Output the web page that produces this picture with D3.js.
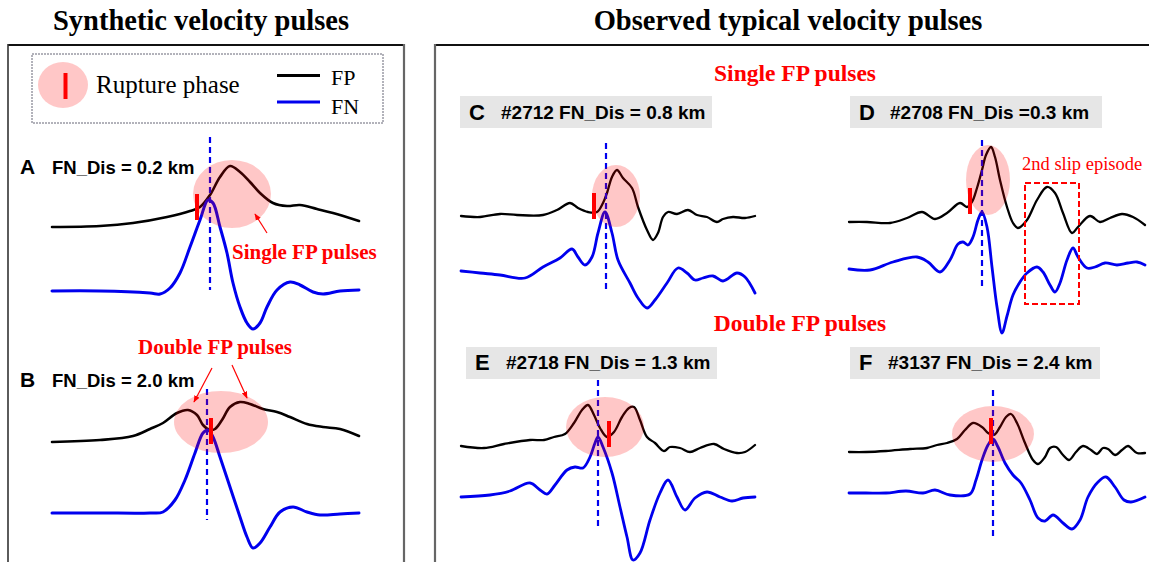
<!DOCTYPE html>
<html>
<head>
<meta charset="utf-8">
<script src="https://cdn.jsdelivr.net/npm/d3@7"></script>
<style>
  body { margin: 0; background: #fff; }
  svg { display: block; }
</style>
</head>
<body>
<div id="chart"></div>
<script>
// velocity traces: [time sample, velocity] relative to the start of each trace
const fpA = [[0,0],[48,1],[81,4],[115,10],[138,16],[148,20],[158,32],[168,50],[178,61],[188,55],[198,45],[208,34],[221,24],[235,21],[248,22],[265,18],[281,14],[307,6]];
const fnA = [[0,0],[48,0],[98,-2],[108,-3],[118,3],[128,18],[138,44],[148,71],[156,91],[161,88],[168,64],[175,38],[181,8],[188,-16],[195,-32],[201,-38],[208,-32],[215,-16],[225,1],[238,9],[248,6],[261,-1],[271,-3],[288,0],[307,1]];
const fpB = [[0,0],[48,2],[81,6],[98,13],[111,19],[125,29],[136,32],[145,27],[151,17],[158,12],[163,13],[170,22],[178,35],[188,40],[198,38],[211,33],[225,30],[238,25],[255,18],[271,15],[288,13],[307,6]];
const fnB = [[0,0],[48,0],[98,0],[111,1],[123,13],[133,33],[143,60],[151,80],[156,83],[161,76],[168,56],[178,26],[188,-4],[195,-24],[201,-35],[208,-30],[218,-14],[228,1],[241,6],[255,1],[268,-2],[288,-1],[307,0]];
const fpC = [[0,0],[19,-1],[39,2],[56,1],[82,1],[96,6],[109,13],[117,8],[127,4],[136,4],[142,13],[146,23],[151,39],[156,46],[162,38],[171,28],[177,9],[186,-14],[192,-24],[197,-17],[202,-1],[207,4],[216,2],[227,6],[236,1],[246,-1],[256,-6],[262,-3],[272,-1],[284,-2],[294,0]];
const fnC = [[0,0],[19,-2],[39,-4],[64,-7],[82,4],[99,13],[111,22],[117,14],[124,6],[131,14],[137,38],[144,59],[151,38],[157,11],[169,-12],[177,-27],[186,-37],[194,-29],[206,-12],[217,3],[226,-2],[234,-9],[242,-7],[252,-5],[262,-10],[276,-2],[284,-6],[294,-22]];
const fpD = [[0,0],[18,0],[41,-1],[58,4],[73,10],[86,3],[98,9],[111,19],[118,15],[123,20],[128,34],[133,52],[137,67],[142,75],[146,65],[151,42],[158,15],[164,-1],[169,-6],[178,2],[188,22],[198,35],[206,29],[214,9],[223,-11],[229,-5],[241,6],[251,0],[261,4],[273,8],[284,5],[296,-3]];
const fnD = [[0,0],[21,-1],[44,7],[68,12],[79,7],[91,-3],[101,9],[109,25],[114,27],[119,24],[124,32],[129,49],[133,57],[138,42],[143,2],[148,-38],[153,-64],[158,-47],[164,-26],[171,-13],[178,-4],[188,2],[194,-3],[201,-16],[206,-23],[211,-14],[218,9],[224,21],[229,12],[238,1],[246,2],[256,6],[268,4],[279,6],[288,7],[296,4]];
const fpE = [[0,0],[23,-2],[43,2],[69,6],[83,6],[93,9],[104,12],[113,23],[121,36],[127,41],[133,31],[139,18],[146,9],[153,14],[161,29],[168,38],[173,39],[179,26],[186,9],[194,3],[203,-5],[209,-1],[219,-2],[229,-6],[239,-2],[253,2],[263,-3],[276,-7],[284,-6],[294,1]];
const fnE = [[0,0],[29,2],[49,6],[69,14],[79,7],[86,3],[94,12],[106,27],[114,30],[122,29],[129,40],[134,54],[137,60],[142,50],[151,24],[159,-10],[166,-40],[172,-63],[179,-56],[189,-23],[199,4],[207,17],[216,0],[224,-13],[234,-1],[246,5],[259,0],[271,-4],[282,-1],[294,0]];
const fpF = [[0,0],[17,0],[37,1],[61,3],[78,4],[88,7],[98,9],[108,13],[116,22],[124,29],[133,25],[139,19],[145,17],[151,25],[157,35],[162,38],[168,29],[176,9],[184,-8],[189,-12],[196,-5],[201,4],[207,5],[214,-3],[220,-8],[227,0],[234,6],[242,2],[248,-2],[254,4],[259,3],[266,-3],[273,2],[279,6],[288,-1],[296,-1]];
const fnF = [[0,0],[17,0],[37,0],[57,2],[74,0],[86,3],[101,-2],[121,-1],[127,13],[133,33],[139,48],[144,54],[149,46],[156,30],[164,18],[172,10],[181,-7],[189,-25],[196,-28],[204,-22],[214,-30],[223,-36],[231,-27],[239,-4],[249,11],[257,16],[266,6],[275,-7],[282,-9],[296,-4]];

const panelIds = ["A", "B", "C", "D", "E", "F"];
const distLabels = ["FN_Dis = 0.2 km", "FN_Dis = 2.0 km", "#2712 FN_Dis = 0.8 km", "#2708 FN_Dis =0.3 km", "#2718 FN_Dis = 1.3 km", "#3137 FN_Dis = 2.4 km"];
const fpTraces = [fpA, fpB, fpC, fpD, fpE, fpF];
const fnTraces = [fnA, fnB, fnC, fnD, fnE, fnF];
// rupture phase arrival (time, FP velocity level)
const ruptureT = [145, 159, 133, 121, 148, 142];
const ruptureV = [20, 11, 10, 21, 12, 21];
// FN pulse peak time and extent of the dashed marker (FP velocity units)
const pulseT = [158, 155, 145, 133, 137, 144];
const pulseSpan = [[90, -63], [53, -78], [73, -77], [82, -67], [66, -83], [62, -87]];
// centre of the highlighted rupture phase
const phaseT = [180, 169, 155, 139, 144, 144];
const phaseV = [33, 20, 20, 42, 19, 18];
// second slip episode window in D
const episodeT = [176, 230];
const episodeV = [39, -82];

// layout of the six panels (pixels)
const layout = [
  {x0: 52,  fp: 227, fn: 291, rx: 39, ry: 34, synth: true,  lx: 20,  ly: 174, tx: 52},
  {x0: 52,  fp: 442, fn: 513, rx: 47, ry: 31, synth: true,  lx: 20,  ly: 387, tx: 52},
  {x0: 461, fp: 216, fn: 271, rx: 24, ry: 31, box: [460, 96, 252, 32],  lx: 469, ly: 119.5, tx: 501},
  {x0: 849, fp: 222, fn: 269, rx: 22, ry: 35, box: [850, 96, 252, 32],  lx: 859, ly: 119.5, tx: 890},
  {x0: 461, fp: 446, fn: 497, rx: 39, ry: 30, box: [466, 347, 251, 32], lx: 475, ly: 370, tx: 506},
  {x0: 849, fp: 452, fn: 493, rx: 41, ry: 28, box: [850, 347, 250, 32], lx: 859, ly: 370, tx: 888}
];

const W = 1149, H = 562;
const serif = "'Liberation Serif', 'Times New Roman', serif";
const sans = "'Liberation Sans', Arial, sans-serif";
const BLUE = "#0000ee";

const svg = d3.select("#chart").append("svg")
    .attr("width", W)
    .attr("height", H);

svg.append("rect").attr("width", W).attr("height", H).attr("fill", "#fff");

// arrow marker
svg.append("defs").append("marker")
    .attr("id", "arr")
    .attr("viewBox", "0 0 10 10")
    .attr("refX", 9).attr("refY", 5)
    .attr("markerWidth", 7).attr("markerHeight", 7)
    .attr("markerUnits", "userSpaceOnUse")
    .attr("orient", "auto")
  .append("path")
    .attr("d", "M0,1 L10,5 L0,9 Z")
    .attr("fill", "#ff0000");

// frames
svg.append("line").attr("x1", 8).attr("x2", 405).attr("y1", 45).attr("y2", 45).attr("stroke", "#111").attr("stroke-width", 2);
svg.append("line").attr("x1", 8).attr("x2", 8).attr("y1", 44).attr("y2", H).attr("stroke", "#333").attr("stroke-width", 1.6);
svg.append("line").attr("x1", 404).attr("x2", 404).attr("y1", 44).attr("y2", H).attr("stroke", "#666").attr("stroke-width", 2.2);
svg.append("line").attr("x1", 434).attr("x2", W).attr("y1", 45).attr("y2", 45).attr("stroke", "#111").attr("stroke-width", 2);
svg.append("line").attr("x1", 435).attr("x2", 435).attr("y1", 44).attr("y2", H).attr("stroke", "#666").attr("stroke-width", 2.2);

// titles
svg.append("text").attr("x", 201).attr("y", 30).attr("text-anchor", "middle")
    .style("font-family", serif).style("font-weight", "bold").style("font-size", "28.5px")
    .text("Synthetic velocity pulses");
svg.append("text").attr("x", 788).attr("y", 30).attr("text-anchor", "middle")
    .style("font-family", serif).style("font-weight", "bold").style("font-size", "28.5px")
    .text("Observed typical velocity pulses");

// legend
const lg = svg.append("g");
lg.append("rect").attr("x", 32).attr("y", 54).attr("width", 351).attr("height", 69)
    .attr("fill", "none").attr("stroke", "#667").attr("stroke-width", 1).attr("stroke-dasharray", "2,1");
lg.append("ellipse").attr("cx", 63).attr("cy", 85).attr("rx", 25).attr("ry", 23)
    .attr("fill", "#ff0000").attr("fill-opacity", 0.22);
lg.append("line").attr("x1", 65.5).attr("x2", 65.5).attr("y1", 73).attr("y2", 99)
    .attr("stroke", "#ff0000").attr("stroke-width", 4);
lg.append("text").attr("x", 96).attr("y", 93)
    .style("font-family", serif).style("font-size", "25px").text("Rupture phase");
lg.append("line").attr("x1", 277).attr("x2", 320).attr("y1", 75.5).attr("y2", 75.5)
    .attr("stroke", "#000").attr("stroke-width", 3);
lg.append("line").attr("x1", 277).attr("x2", 320).attr("y1", 102).attr("y2", 102)
    .attr("stroke", BLUE).attr("stroke-width", 3);
lg.append("text").attr("x", 331).attr("y", 85)
    .style("font-family", serif).style("font-size", "22px").text("FP");
lg.append("text").attr("x", 331).attr("y", 114)
    .style("font-family", serif).style("font-size", "22px").text("FN");

// panels
panelIds.forEach(function(id, i) {
  const L = layout[i];
  const g = svg.append("g");

  const x = d3.scaleLinear().domain([0, 100]).range([L.x0, L.x0 + 100]);
  const yFP = d3.scaleLinear().domain([0, 100]).range([L.fp, L.fp - 100]);
  const yFN = d3.scaleLinear().domain([0, 100]).range([L.fn, L.fn - 100]);

  const lineFP = d3.line().x(d => x(d[0])).y(d => yFP(d[1])).curve(d3.curveCatmullRom.alpha(0.5));
  const lineFN = d3.line().x(d => x(d[0])).y(d => yFN(d[1])).curve(d3.curveCatmullRom.alpha(0.5));

  // label
  if (L.box) {
    g.append("rect").attr("x", L.box[0]).attr("y", L.box[1]).attr("width", L.box[2]).attr("height", L.box[3])
        .attr("fill", "#e6e6e6");
  }
  g.append("text").attr("x", L.lx).attr("y", L.ly)
      .style("font-family", sans).style("font-weight", "bold")
      .style("font-size", L.synth ? "21px" : "22px")
      .text(id);
  g.append("text").attr("x", L.tx).attr("y", L.ly - (L.synth ? 0 : 1))
      .style("font-family", sans).style("font-weight", "bold")
      .style("font-size", L.synth ? "18.5px" : "19px")
      .text(distLabels[i]);

  // traces
  const sw = L.synth ? 2.6 : 2.3;
  g.append("path").datum(fpTraces[i]).attr("d", lineFP)
      .attr("fill", "none").attr("stroke", "#000").attr("stroke-width", sw)
      .attr("stroke-linejoin", "round").attr("stroke-linecap", "round");
  g.append("path").datum(fnTraces[i]).attr("d", lineFN)
      .attr("fill", "none").attr("stroke", BLUE).attr("stroke-width", L.synth ? 3 : 2.8)
      .attr("stroke-linejoin", "round").attr("stroke-linecap", "round");

  // FN pulse peak marker
  g.append("line")
      .attr("x1", x(pulseT[i])).attr("x2", x(pulseT[i]))
      .attr("y1", yFP(pulseSpan[i][0])).attr("y2", yFP(pulseSpan[i][1]))
      .attr("stroke", BLUE).attr("stroke-width", 2.2).attr("stroke-dasharray", "6,4");

  // rupture phase highlight
  g.append("ellipse")
      .attr("cx", x(phaseT[i])).attr("cy", yFP(phaseV[i]))
      .attr("rx", L.rx).attr("ry", L.ry)
      .attr("fill", "#ff0000").attr("fill-opacity", 0.22);

  g.append("line")
      .attr("x1", x(ruptureT[i])).attr("x2", x(ruptureT[i]))
      .attr("y1", yFP(ruptureV[i] + 13)).attr("y2", yFP(ruptureV[i] - 13))
      .attr("stroke", "#ff0000").attr("stroke-width", 4);

  if (id === "D") {
    g.append("rect")
        .attr("x", x(episodeT[0])).attr("y", yFP(episodeV[0]))
        .attr("width", x(episodeT[1]) - x(episodeT[0]))
        .attr("height", yFP(episodeV[1]) - yFP(episodeV[0]))
        .attr("fill", "none").attr("stroke", "#ff0000").attr("stroke-width", 2)
        .attr("stroke-dasharray", "6,3");
    g.append("text").attr("x", 1022).attr("y", 170)
        .attr("fill", "#ff0000")
        .style("font-family", serif).style("font-size", "18.5px")
        .text("2nd slip episode");
  }
});

// annotations
function note(x, y, txt, size, anchor) {
  svg.append("text").attr("x", x).attr("y", y).attr("text-anchor", anchor || "start")
      .attr("fill", "#ff0000")
      .style("font-family", serif).style("font-weight", "bold").style("font-size", size)
      .text(txt);
}
function arrow(x1, y1, x2, y2) {
  svg.append("line").attr("x1", x1).attr("y1", y1).attr("x2", x2).attr("y2", y2)
      .attr("stroke", "#ff0000").attr("stroke-width", 1.2).attr("marker-end", "url(#arr)");
}
note(232, 259, "Single FP pulses", "21px");
arrow(267, 233, 255, 214);
note(215, 354, "Double FP pulses", "21px", "middle");
arrow(212, 368, 194, 402);
arrow(232, 365, 247, 398);
note(795, 81, "Single FP pulses", "23.5px", "middle");
note(800, 331, "Double FP pulses", "23.5px", "middle");
</script>
</body>
</html>
